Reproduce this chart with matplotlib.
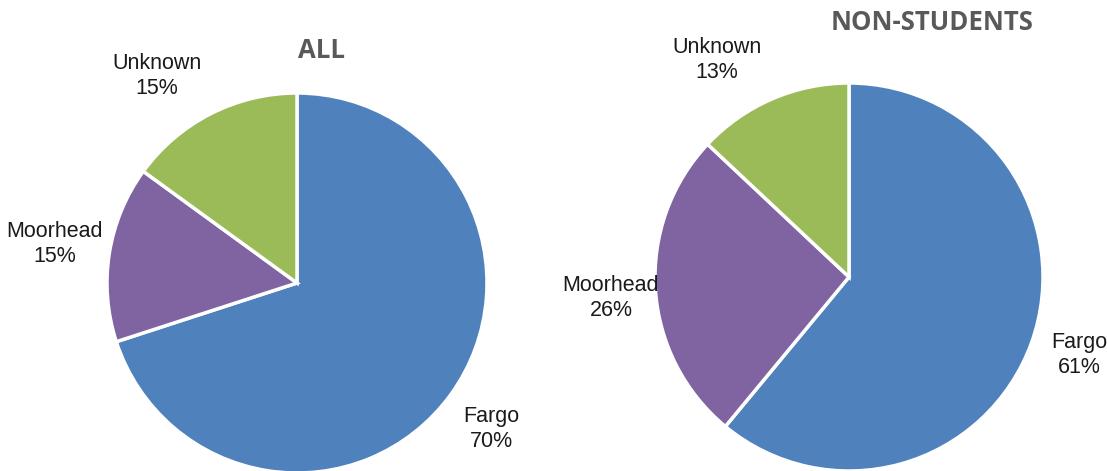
import matplotlib
matplotlib.use("Agg")
import matplotlib.pyplot as plt

# data
categories = ["Fargo", "Moorhead", "Unknown"]
all_pct = [70, 15, 15]
nonstudent_pct = [61, 26, 13]
colors = ["#4F81BD", "#8064A2", "#9BBB59"]

W, H = 1107, 471
fig = plt.figure(figsize=(W / 100, H / 100), dpi=100)
ax = fig.add_axes([0, 0, 1, 1])
ax.set_xlim(0, W)
ax.set_ylim(0, H)
ax.set_aspect("equal")
ax.axis("off")

label_font = dict(family=["Liberation Sans Narrow", "Liberation Sans", "DejaVu Sans"],
                  fontsize=15.5, color="#1a1a1a", ha="center", va="center",
                  linespacing=1.3)
title_font = dict(family=["Open Sans", "DejaVu Sans"], fontweight="bold",
                  fontsize=18.5, color="#595959", ha="center", va="center")


def draw_pie(values, center, radius, label_pos, title, title_pos):
    ax.pie(values, colors=colors, startangle=90, counterclock=False,
           center=center, radius=radius, frame=True,
           wedgeprops=dict(edgecolor="white", linewidth=2.5))
    for name, v, (lx, ly) in zip(categories, values, label_pos):
        ax.text(lx, H - ly, f"{name}\n{v}%", **label_font)
    ax.text(title_pos[0], H - title_pos[1], title, **title_font)


draw_pie(all_pct, (297, H - 283), 190,
         [(491, 429), (55, 244), (157, 76)], "ALL", (322, 50))
draw_pie(nonstudent_pct, (849, H - 277), 194,
         [(1079, 355), (611, 298), (717, 60)], "NON-STUDENTS", (932, 22))

ax.set_xlim(0, W)
ax.set_ylim(0, H)
ax.axis("off")

fig.savefig("out.png", dpi=100)
